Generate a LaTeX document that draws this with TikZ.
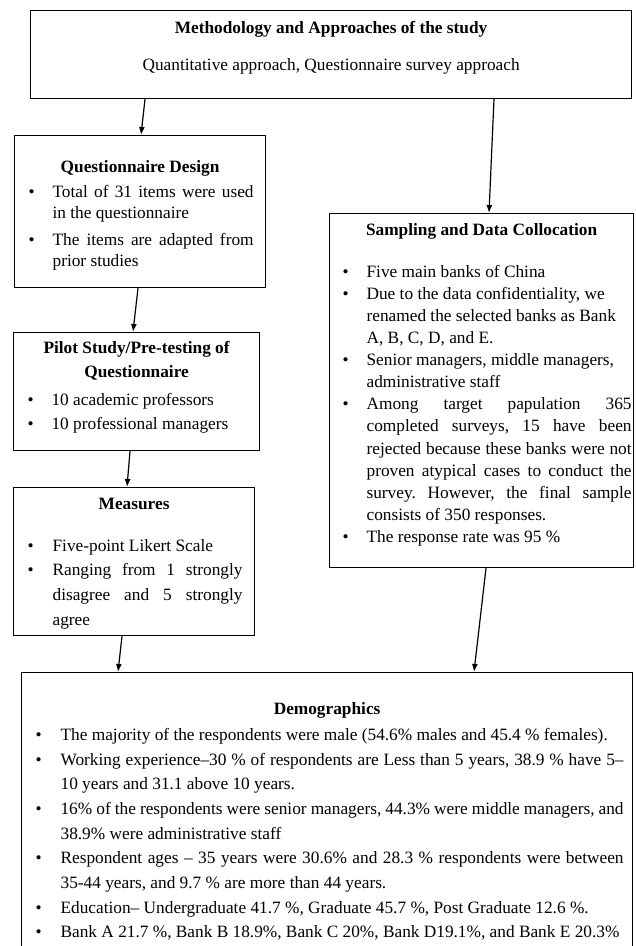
\documentclass[tikz,border=0pt]{standalone}
\usepackage{fontspec}
\setmainfont{Liberation Serif}
\usetikzlibrary{arrows.meta}

\newlength{\lpad}
\newlength{\bulind}
\newlength{\bulpos}
\newlength{\textw}
% left pad, hanging indent, bullet offset, text column
\newcommand{\setcol}[4]{\setlength{\lpad}{#1}\setlength{\bulind}{#2}\setlength{\bulpos}{#3}\setlength{\textw}{#4}}
% font's own word spaces (stretchable), no extra space after a full stop
\newcommand{\wsp}{\spaceskip=0pt\xspaceskip=0pt\frenchspacing}
% one line each: centred, bullet line, continuation line ([s] = justified)
\newcommand{\ctr}[1]{\noindent\hbox to\hsize{\wsp\hfil#1\hfil}\par}
\newcommand{\bul}[2][l]{\noindent\hbox{\wsp\hskip\lpad\hbox to\bulind{\hskip\bulpos\textbullet\hfil}\makebox[\textw][#1]{#2}}\par}
\newcommand{\cont}[2][l]{\noindent\hbox{\wsp\hskip\lpad\hskip\bulind\makebox[\textw][#1]{#2}}\par}

\tikzset{
    box/.style={draw, line width=1.2pt, anchor=north west, inner ysep=0pt,
        font=\fontsize{17.3}{24}\selectfont},
}

\begin{document}
\begin{tikzpicture}[x=1pt, y=-1pt, >={Latex[length=8pt,width=6pt]}, line width=1.2pt]
    \useasboundingbox (0,0) rectangle (636,946);
    \clip (0,0) rectangle (636,946);

    % top box
    \node[box, text width=577pt, inner xsep=12pt, minimum height=88pt] (meth) at (30,10)
        {\ctr{\bfseries Methodology and Approaches of the study}\vspace{13pt}
         \ctr{Quantitative approach, Questionnaire survey approach}\kern14pt};

    % left column
    \node[box, text width=227pt, inner xsep=12pt, minimum height=152pt] (qd) at (14,135)
        {\fontsize{17.3}{21}\selectfont\setcol{0pt}{26pt}{2pt}{201pt}%
         \ctr{\bfseries Questionnaire Design}\vspace{4pt}
         \bul[s]{Total of 31 items were used}
         \cont{in the questionnaire}\vspace{6pt}
         \bul[s]{The items are adapted from}
         \cont{prior studies}\kern-8pt};
    \node[box, text width=222pt, inner xsep=12pt, minimum height=118pt] (pilot) at (13,332)
        {\setcol{0pt}{26pt}{2pt}{196pt}%
         \ctr{\bfseries Pilot Study/Pre-testing of}
         \ctr{\bfseries Questionnaire}\vspace{4pt}
         \bul{10 academic professors}
         \bul{10 professional managers}\kern8pt};
    \node[box, text width=217pt, inner xsep=12pt, minimum height=148pt] (meas) at (13,487)
        {\fontsize{17.3}{24.7}\selectfont\setcol{0pt}{27pt}{2pt}{190pt}%
         \ctr{\bfseries Measures}\vspace{17pt}
         \bul{Five-point Likert Scale}
         \bul[s]{Ranging from 1 strongly}
         \cont[s]{disagree and 5 strongly}
         \cont{agree}\kern-4pt};

    % right column
    \node[box, text width=300pt, inner xsep=2pt, minimum height=354pt] (samp) at (329,213)
        {\fontsize{17.3}{22.1}\selectfont\setcol{11pt}{24pt}{0pt}{265pt}%
         \ctr{\bfseries Sampling and Data Collocation}\vspace{20pt}
         \bul{Five main banks of China}
         \bul{Due to the data confidentiality, we}
         \cont{renamed the selected banks as Bank}
         \cont{A, B, C, D, and E.}
         \bul{Senior managers, middle managers,}
         \cont{administrative staff}
         \bul[s]{Among target papulation 365}
         \cont[s]{completed surveys, 15 have been}
         \cont[s]{rejected because these banks were not}
         \cont[s]{proven atypical cases to conduct the}
         \cont[s]{survey. However, the final sample}
         \cont{consists of 350 responses.}
         \bul{The response rate was 95 \%}\kern12pt};

    % bottom box, runs past the lower edge
    \node[box, text width=593pt, inner xsep=9pt, inner ysep=30pt] (demo) at (21,672)
        {\fontsize{17.3}{24.7}\selectfont\setcol{5pt}{25pt}{0pt}{563pt}%
         \ctr{\bfseries Demographics}\vspace{1pt}
         \bul{The majority of the respondents were male (54.6\% males and 45.4 \% females).}
         \bul[s]{Working experience–30 \% of respondents are Less than 5 years, 38.9 \% have 5–}
         \cont{10 years and 31.1 above 10 years.}
         \bul[s]{16\% of the respondents were senior managers, 44.3\% were middle managers, and}
         \cont{38.9\% were administrative staff}
         \bul[s]{Respondent ages – 35 years were 30.6\% and 28.3 \% respondents were between}
         \cont{35-44 years, and 9.7 \% are more than 44 years.}
         \bul{Education– Undergraduate 41.7 \%, Graduate 45.7 \%, Post Graduate 12.6 \%.}
         \bul{Bank A 21.7 \%, Bank B 18.9\%, Bank C 20\%, Bank D19.1\%, and Bank E 20.3\%}};

    % arrows
    \draw[->] ([xshift=115pt]meth.south west) -- ([xshift=127pt]qd.north west);
    \draw[->] ([xshift=464pt]meth.south west) -- ([xshift=160pt]samp.north west);
    \draw[->] ([xshift=124pt]qd.south west) -- ([xshift=120pt]pilot.north west);
    \draw[->] ([xshift=117pt]pilot.south west) -- ([xshift=114pt]meas.north west);
    \draw[->] ([xshift=109pt]meas.south west) -- ([xshift=97pt]demo.north west);
    \draw[->] ([xshift=157pt]samp.south west) -- ([xshift=453pt]demo.north west);
\end{tikzpicture}
\end{document}
